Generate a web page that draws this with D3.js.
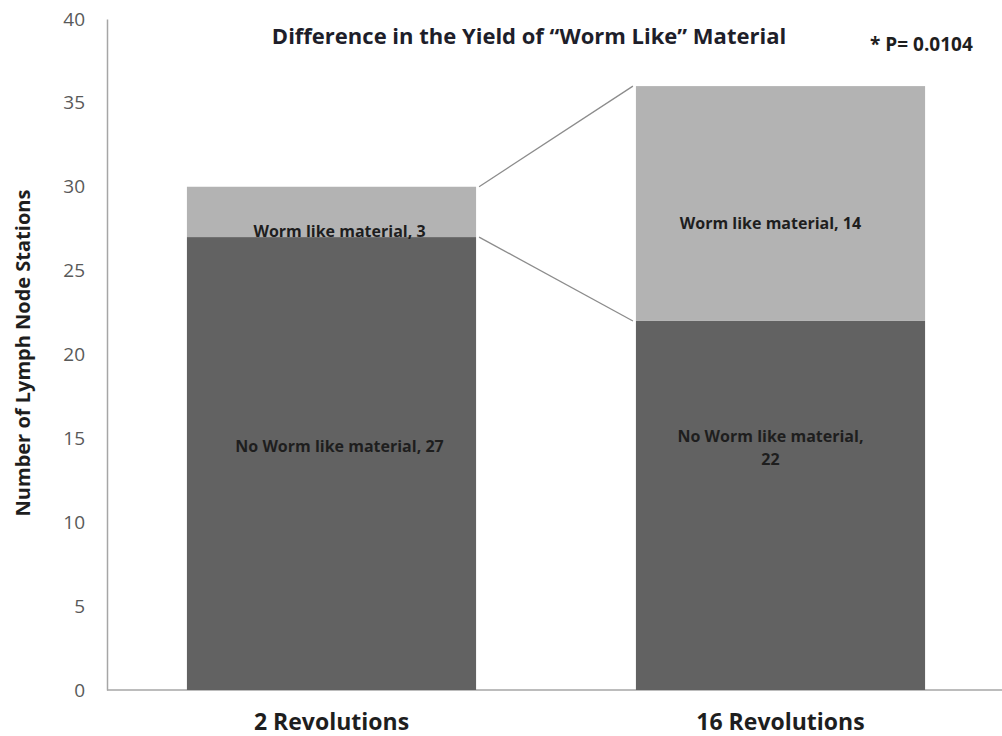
<!DOCTYPE html>
<html>
<head>
<meta charset="utf-8">
<script src="https://cdn.jsdelivr.net/npm/d3@7"></script>
<style>
  body { margin: 0; background: #fff; }
  svg { display: block; font-family: "Open Sans", sans-serif; }
</style>
</head>
<body>
<svg id="chart" width="1002" height="736"></svg>
<script>
"use strict";

// Data
const categories = ["2 Revolutions", "16 Revolutions"];
const noWorm = [27, 22];
const worm = [3, 14];
const yTicks = [0, 5, 10, 15, 20, 25, 30, 35, 40];
const noWormLabels = [["No Worm like material, 27"], ["No Worm like material,", "22"]];
const wormLabels = ["Worm like material, 3", "Worm like material, 14"];

const svg = d3.select("#chart");

const x = d3.scaleBand()
    .domain(categories)
    .range([107, 1005])
    .paddingInner(0.356)
    .paddingOuter(0.178);

const y = d3.scaleLinear()
    .domain([0, 40])
    .range([690, 19]);

// y axis
const yAxis = svg.append("g")
    .attr("transform", "translate(107,0)")
    .call(d3.axisLeft(y).tickValues(yTicks).tickSize(0).tickPadding(22));
yAxis.select(".domain").attr("stroke", "#a6a6a6").attr("stroke-width", 1.5);
yAxis.selectAll("text")
    .attr("font-size", "19px")
    .attr("fill", "#595959")
    .attr("font-family", "'Open Sans', sans-serif");

// x axis line
svg.append("line")
    .attr("x1", 107).attr("x2", 1002)
    .attr("y1", y(0)).attr("y2", y(0))
    .attr("stroke", "#a6a6a6")
    .attr("stroke-width", 1.5);

// stacked bars
const bars = svg.append("g");
categories.forEach((c, i) => {
    bars.append("rect")
        .attr("x", x(c))
        .attr("y", y(noWorm[i]))
        .attr("width", x.bandwidth())
        .attr("height", y(0) - y(noWorm[i]))
        .attr("fill", "#626262");
    bars.append("rect")
        .attr("x", x(c))
        .attr("y", y(noWorm[i] + worm[i]))
        .attr("width", x.bandwidth())
        .attr("height", y(noWorm[i]) - y(noWorm[i] + worm[i]))
        .attr("fill", "#b3b3b3");
});

// series lines between the bars
const x1 = x(categories[0]) + x.bandwidth() + 3;
const x2 = x(categories[1]) - 3;
[[noWorm[0] + worm[0], noWorm[1] + worm[1]], [noWorm[0], noWorm[1]]].forEach(([a, b]) => {
    svg.append("line")
        .attr("x1", x1).attr("y1", y(a))
        .attr("x2", x2).attr("y2", y(b))
        .attr("stroke", "#8c8c8c")
        .attr("stroke-width", 1.3);
});

// segment labels
const labelG = svg.append("g")
    .attr("font-size", "16px")
    .attr("font-weight", "bold")
    .attr("fill", "#1e1e1e")
    .attr("text-anchor", "middle");

const wormLabelAt = [27.35, 27.8];
const noWormLabelAt = [14.5, 15.1];
const labelShift = [8, -10];
categories.forEach((c, i) => {
    const cx = x(c) + x.bandwidth() / 2 + labelShift[i];
    labelG.append("text")
        .attr("x", cx)
        .attr("y", y(wormLabelAt[i]))
        .attr("dy", "0.35em")
        .text(wormLabels[i]);
    noWormLabels[i].forEach((line, j) => {
        labelG.append("text")
            .attr("x", cx)
            .attr("y", y(noWormLabelAt[i]) + j * 23)
            .attr("dy", "0.35em")
            .text(line);
    });
});

// category labels
categories.forEach(c => {
    svg.append("text")
        .attr("x", x(c) + x.bandwidth() / 2)
        .attr("y", 730)
        .attr("text-anchor", "middle")
        .attr("font-size", "23px")
        .attr("font-weight", "bold")
        .attr("fill", "#1e1e1e")
        .text(c);
});

// title
svg.append("text")
    .attr("x", 529)
    .attr("y", 44)
    .attr("text-anchor", "middle")
    .attr("font-size", "22px")
    .attr("font-weight", "bold")
    .attr("fill", "#1e1e2a")
    .text("Difference in the Yield of \u201cWorm Like\u201d Material");

svg.append("text")
    .attr("x", 870)
    .attr("y", 51)
    .attr("font-size", "19px")
    .attr("font-weight", "bold")
    .attr("fill", "#1e1e1e")
    .text("* P= 0.0104");

// y axis title
svg.append("text")
    .attr("transform", "translate(30,353) rotate(-90)")
    .attr("text-anchor", "middle")
    .attr("font-size", "20px")
    .attr("font-weight", "bold")
    .attr("fill", "#1e1e1e")
    .text("Number of Lymph Node Stations");
</script>
</body>
</html>
